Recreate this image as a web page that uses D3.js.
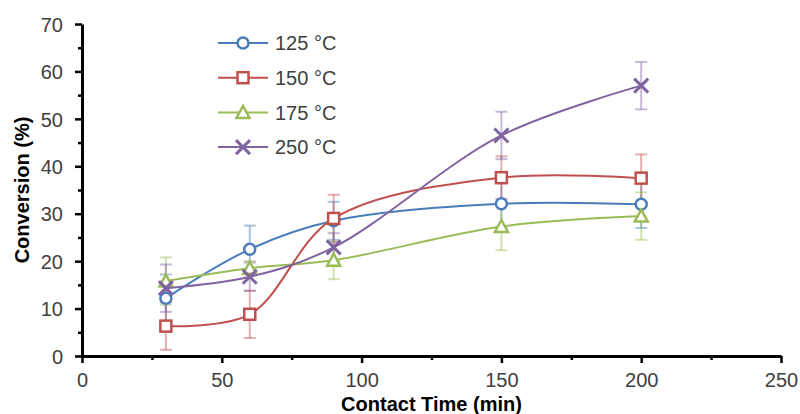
<!DOCTYPE html>
<html>
<head>
<meta charset="utf-8">
<script src="https://d3js.org/d3.v7.min.js"></script>
<style>
  body { margin: 0; background: #fff; }
  text { font-family: "Liberation Sans", Arial, sans-serif; }
</style>
</head>
<body>
<div id="chart"></div>
<script>
// data
var times = [30, 60, 90, 150, 200];
var labels = ["125 °C", "150 °C", "175 °C", "250 °C"];
var colors = ["#4a7ebb", "#c0504d", "#9bbb59", "#8064a2"];
var symbols = ["circle", "square", "triangle", "cross"];

var conv125 = [12.2, 22.5, 28.5, 32.1, 32.0];
var conv150 = [6.3, 8.8, 29.0, 37.6, 37.5];
var conv175 = [15.8, 18.5, 20.2, 27.3, 29.5];
var conv250 = [14.3, 16.7, 22.9, 46.5, 57.0];

var err125 = [5, 5, 4, 5, 5];
var err150 = [5, 5, 5, 4.5, 5];
var err175 = [5, 1.5, 4, 5, 5];
var err250 = [5, 3, 3, 5, 5];

var xTicks = [0, 50, 100, 150, 200, 250];
var yTicks = [0, 10, 20, 30, 40, 50, 60, 70];

var seriesVals = [conv125, conv150, conv175, conv250];
var seriesErr = [err125, err150, err175, err250];

var W = 800, H = 414;
var margin = {top: 24, right: 19, bottom: 58, left: 82};
var width = W - margin.left - margin.right,
    height = H - margin.top - margin.bottom;

var svg = d3.select("#chart").append("svg")
    .attr("width", W).attr("height", H);
var g = svg.append("g")
    .attr("transform", "translate(" + margin.left + "," + margin.top + ")");

var x = d3.scaleLinear().domain([0, 250]).range([0, width]);
var y = d3.scaleLinear().domain([0, 70]).range([height, 0]);

// minor ticks
g.append("g")
    .attr("transform", "translate(0," + height + ")")
    .call(d3.axisBottom(x).tickValues(d3.range(25, 250, 50)).tickSize(4).tickFormat(""))
    .call(function(s){ s.select(".domain").remove(); s.selectAll("line").attr("stroke", "#000").attr("stroke-width", 2.5); });
g.append("g")
    .call(d3.axisLeft(y).tickValues(d3.range(5, 70, 10)).tickSize(4).tickFormat(""))
    .call(function(s){ s.select(".domain").remove(); s.selectAll("line").attr("stroke", "#000").attr("stroke-width", 2.5); });

// major axes
var xAxis = g.append("g")
    .attr("transform", "translate(0," + height + ")")
    .call(d3.axisBottom(x).tickValues(xTicks).tickSize(7).tickSizeOuter(0).tickPadding(10));
var yAxis = g.append("g")
    .call(d3.axisLeft(y).tickValues(yTicks).tickSize(7).tickSizeOuter(0).tickPadding(12));
[xAxis, yAxis].forEach(function(a){
  a.select(".domain").attr("stroke", "#000").attr("stroke-width", 3);
  a.selectAll(".tick line").attr("stroke", "#000").attr("stroke-width", 2.5);
  a.selectAll(".tick text").attr("fill", "#404040")
    .style("font-size", "20px");
});
xAxis.selectAll(".tick text").attr("dy", "0.71em");
yAxis.selectAll(".tick text").attr("dy", "0.36em");

// axis titles
svg.append("text")
    .attr("x", margin.left + x(125)).attr("y", 411)
    .attr("text-anchor", "middle")
    .style("font-size", "20px").style("font-weight", "bold")
    .text("Contact Time (min)");
svg.append("text")
    .attr("transform", "translate(29," + (margin.top + y(35)) + ") rotate(-90)")
    .attr("text-anchor", "middle")
    .style("font-size", "20px").style("font-weight", "bold")
    .text("Conversion (%)");

var line = d3.line()
    .x(function(d){ return x(d[0]); })
    .y(function(d){ return y(d[1]); })
    .curve(d3.curveCatmullRom.alpha(0.5));

function drawMarker(sel, type, color, cx, cy) {
  if (type === "circle") {
    sel.append("circle").attr("cx", cx).attr("cy", cy).attr("r", 5.5)
      .attr("fill", "#fff").attr("stroke", color).attr("stroke-width", 2.5);
  } else if (type === "square") {
    sel.append("rect").attr("x", cx - 5.5).attr("y", cy - 5.5)
      .attr("width", 11).attr("height", 11)
      .attr("fill", "#fff").attr("stroke", color).attr("stroke-width", 2.5);
  } else if (type === "triangle") {
    sel.append("path")
      .attr("d", "M" + cx + "," + (cy - 6.5) + "L" + (cx + 6.5) + "," + (cy + 5.5) + "L" + (cx - 6.5) + "," + (cy + 5.5) + "Z")
      .attr("fill", "#fff").attr("stroke", color).attr("stroke-width", 2.5);
  } else {
    sel.append("path")
      .attr("d", "M" + (cx - 7) + "," + (cy - 7) + "L" + (cx + 7) + "," + (cy + 7) +
                 "M" + (cx + 7) + "," + (cy - 7) + "L" + (cx - 7) + "," + (cy + 7))
      .attr("stroke", color).attr("stroke-width", 3).attr("fill", "none");
  }
}

// error bars
seriesVals.forEach(function(vals, i){
  var eg = g.append("g").attr("stroke", colors[i]).attr("stroke-opacity", 0.45).attr("stroke-width", 2);
  times.forEach(function(t, j){
    var cx = x(t), lo = y(vals[j] - seriesErr[i][j]), hi = y(vals[j] + seriesErr[i][j]);
    eg.append("line").attr("x1", cx).attr("x2", cx).attr("y1", lo).attr("y2", hi);
    eg.append("line").attr("x1", cx - 6).attr("x2", cx + 6).attr("y1", lo).attr("y2", lo);
    eg.append("line").attr("x1", cx - 6).attr("x2", cx + 6).attr("y1", hi).attr("y2", hi);
  });
});

// lines and markers
seriesVals.forEach(function(vals, i){
  var pts = times.map(function(t, j){ return [t, vals[j]]; });
  g.append("path").datum(pts)
    .attr("d", line)
    .attr("fill", "none").attr("stroke", colors[i]).attr("stroke-width", 2);
  var mg = g.append("g");
  pts.forEach(function(p){ drawMarker(mg, symbols[i], colors[i], x(p[0]), y(p[1])); });
});

// legend
var leg = svg.append("g");
labels.forEach(function(l, i){
  var ly = 43 + i * 34.7;
  leg.append("line").attr("x1", 218).attr("x2", 268).attr("y1", ly).attr("y2", ly)
    .attr("stroke", colors[i]).attr("stroke-width", 2);
  drawMarker(leg, symbols[i], colors[i], 243, ly);
  leg.append("text").attr("x", 275).attr("y", ly).attr("dy", "0.36em")
    .attr("fill", "#404040").style("font-size", "20px").text(l);
});
</script>
</body>
</html>
